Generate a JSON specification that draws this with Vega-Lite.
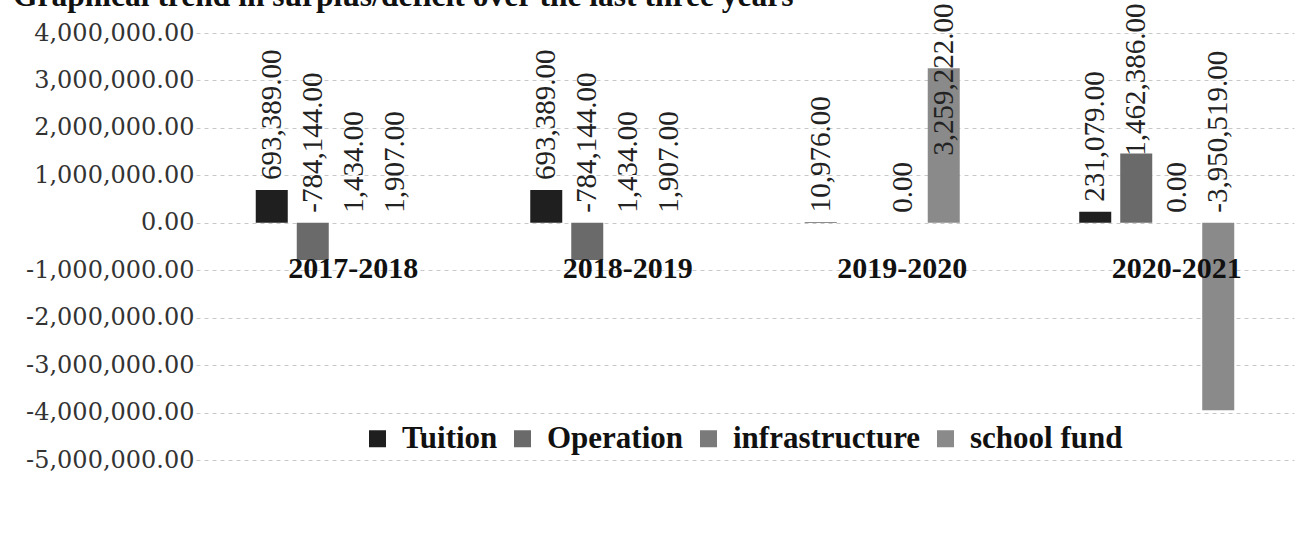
{
  "$schema": "https://vega.github.io/schema/vega-lite/v6.json",
  "autosize": "none",
  "width": 1098,
  "height": 427,
  "padding": {"left": 196, "top": 33, "right": 9, "bottom": 83},
  "background": "white",
  "title": {
    "text": "Graphical trend in surplus/deficit over the last three years",
    "anchor": "start",
    "frame": "group",
    "dx": -183,
    "offset": 0,
    "dy": 34,
    "baseline": "alphabetic",
    "font": "Liberation Serif",
    "fontSize": 31.5,
    "fontWeight": "bold",
    "color": "#111"
  },
  "config": {
    "view": {"stroke": null},
    "font": "Liberation Serif",
    "locale": {"number": {"decimal": ".", "thousands": ",", "grouping": [3], "currency": ["$", ""], "minus": "-"}}
  },
  "data": {
    "values": [
      {"year": "2017-2018", "series": "Tuition", "value": 693389},
      {"year": "2017-2018", "series": "Operation", "value": -784144},
      {"year": "2017-2018", "series": "infrastructure", "value": 1434},
      {"year": "2017-2018", "series": "school fund", "value": 1907},
      {"year": "2018-2019", "series": "Tuition", "value": 693389},
      {"year": "2018-2019", "series": "Operation", "value": -784144},
      {"year": "2018-2019", "series": "infrastructure", "value": 1434},
      {"year": "2018-2019", "series": "school fund", "value": 1907},
      {"year": "2019-2020", "series": "Tuition", "value": 10976},
      {"year": "2019-2020", "series": "infrastructure", "value": 0},
      {"year": "2019-2020", "series": "school fund", "value": 3259222},
      {"year": "2020-2021", "series": "Tuition", "value": 231079},
      {"year": "2020-2021", "series": "Operation", "value": 1462386},
      {"year": "2020-2021", "series": "infrastructure", "value": 0},
      {"year": "2020-2021", "series": "school fund", "value": -3950519}
    ]
  },
  "transform": [{"calculate": "min(max(datum.value, 0), 1200000)", "as": "labelPos"}],
  "encoding": {
    "x": {
      "field": "year",
      "type": "nominal",
      "sort": ["2017-2018", "2018-2019", "2019-2020", "2020-2021"],
      "scale": {"paddingInner": 0.4353, "paddingOuter": 0.2177},
      "axis": {
        "orient": "bottom",
        "offset": -192,
        "title": null,
        "labelAngle": 0,
        "labelPadding": 0,
        "labelBaseline": "middle",
        "labelOffset": 20,
        "labelFont": "Liberation Serif",
        "labelFontSize": 30,
        "labelFontWeight": "bold",
        "labelColor": "#111",
        "ticks": false,
        "domain": false,
        "grid": false,
        "zindex": 1
      }
    },
    "xOffset": {
      "field": "series",
      "sort": ["Tuition", "Operation", "infrastructure", "school fund"],
      "scale": {"paddingInner": 0.2195, "paddingOuter": 0}
    }
  },
  "layer": [
    {
      "mark": {"type": "bar"},
      "encoding": {
        "y": {
          "field": "value",
          "type": "quantitative",
          "scale": {"domain": [-5000000, 4000000], "nice": false, "zero": false},
          "axis": {
            "values": [-5000000, -4000000, -3000000, -2000000, -1000000, 0, 1000000, 2000000, 3000000, 4000000],
            "format": ",.2f",
            "title": null,
            "labelFont": "DejaVu Serif",
            "labelFontSize": 24,
            "labelColor": "#333",
            "labelPadding": 2,
            "ticks": false,
            "domain": false,
            "grid": true,
            "gridColor": "#c8c8c8",
            "gridDash": [4, 4],
            "gridWidth": 1
          }
        },
        "color": {
          "field": "series",
          "type": "nominal",
          "scale": {
            "domain": ["Tuition", "Operation", "infrastructure", "school fund"],
            "range": ["#1f1f1f", "#6a6a6a", "#7a7a7a", "#8a8a8a"]
          },
          "legend": {
            "orient": "none",
            "legendX": 166,
            "legendY": 390,
            "direction": "horizontal",
            "title": null,
            "symbolType": "square",
            "symbolSize": 289,
            "symbolStrokeWidth": 0,
            "labelFont": "Liberation Serif",
            "labelFontSize": 31,
            "labelFontWeight": "bold",
            "labelColor": "#111",
            "labelLimit": 400,
            "labelOffset": 9,
            "columnPadding": 9
          }
        }
      }
    },
    {
      "mark": {
        "type": "text",
        "angle": 270,
        "align": "left",
        "baseline": "middle",
        "dx": 10,
        "font": "Liberation Serif",
        "fontSize": 29,
        "color": "#222"
      },
      "encoding": {
        "y": {"field": "labelPos", "type": "quantitative"},
        "text": {"field": "value", "type": "quantitative", "format": ",.2f"}
      }
    }
  ]
}
